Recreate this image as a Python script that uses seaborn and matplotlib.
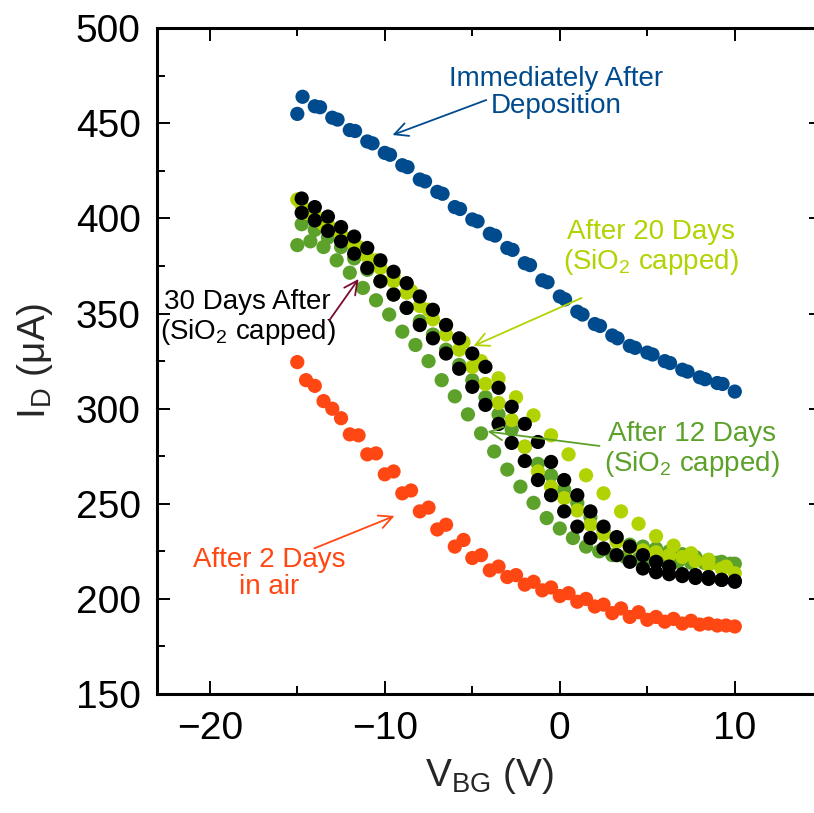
import matplotlib
matplotlib.use("Agg")
import matplotlib.pyplot as plt
import pandas as pd
import seaborn as sns
from matplotlib.ticker import MultipleLocator

# ---------------- data ----------------
blue_v = [-15, -14.7, -14, -13.7, -13, -12.7, -12, -11.7, -11, -10.7, -10, -9.7, -9, -8.7,
          -8, -7.7, -7, -6.7, -6, -5.7, -5, -4.7, -4, -3.7, -3, -2.7, -2, -1.7, -1, -0.7,
          0, 0.3, 1, 1.3, 2, 2.3, 3, 3.3, 4, 4.3, 5, 5.3, 6, 6.3, 7, 7.3, 8, 8.3, 9, 9.3, 10]
blue_i = [455, 464, 459, 458.5, 453, 452, 446.5, 446, 440.5, 439.5, 434.5, 433.5, 428, 427,
          420.5, 419.5, 414, 413, 406, 405, 399.5, 398.5, 392, 391, 384.5, 383.5, 376.5, 375.5,
          367.5, 366.5, 359, 357.5, 351, 349.5, 344.5, 343.5, 338.5, 337, 333, 332, 329.5, 328.5,
          325, 324, 320.5, 319.5, 316.5, 315.5, 313.5, 313, 309]

red_v = [-15, -14.5, -14, -13.5, -13, -12.5, -12, -11.5, -11, -10.5, -10, -9.5, -9, -8.5, -8,
         -7.5, -7, -6.5, -6, -5.5, -5, -4.5, -4, -3.5, -3, -2.5, -2, -1.5, -1, -0.5, 0, 0.5,
         1, 1.5, 2, 2.5, 3, 3.5, 4, 4.5, 5, 5.5, 6, 6.5, 7, 7.5, 8, 8.5, 9, 9.5, 10]
red_i = [324.5, 315, 312, 304, 300, 295, 286.5, 286, 276, 276.5, 265.5, 267, 255.5, 257, 246,
         248, 236.5, 239, 227.5, 231, 221.5, 223, 215, 217, 211.5, 212.5, 207.5, 209, 204.5,
         206, 201.5, 203, 198.5, 200, 196, 197, 192.5, 195, 190.5, 193, 189, 190.5, 188, 189.5,
         187, 188.5, 186.5, 187, 186, 186, 185.5]

green_lo_v = [-15, -14.25, -13.5, -12.75, -12, -11.25, -10.5, -9.75, -9, -8.25, -7.5, -6.75,
              -6, -5.25, -4.5, -3.75, -3, -2.25, -1.5, -0.75, 0, 0.75, 1.5, 2.25, 3, 3.75,
              4.5, 5.25, 6, 6.75, 7.5, 8.25, 9, 9.75]
green_lo_i = [386, 388, 385, 378, 371.5, 363.5, 357, 349.5, 340.5, 333.5, 325, 315, 306.5, 297,
              287, 277.5, 268, 259, 250.5, 242.5, 237, 232, 227.5, 225, 223, 222, 221, 220.5,
              220, 219.5, 219, 219, 219, 218.5]
green_hi_v = [-14.75, -14, -13.25, -12.5, -11.75, -11, -10.25, -9.5, -8.75, -8, -7.25, -6.5,
              -5.75, -5, -4.25, -3.5, -2.75, -2, -1.25, -0.5, 0.25, 1, 1.75, 2.5, 3.25, 4,
              4.75, 5.5, 6.25, 7, 7.75, 8.5, 9.25, 10]
green_hi_i = [397, 394, 390, 385, 379, 373, 367, 360, 353, 346, 339, 331, 323, 315, 306, 297,
              289, 280, 271, 265, 257.5, 250.5, 243, 236, 231, 228.5, 227.5, 226.5, 225, 223.5,
              222, 220.5, 219.5, 218.5]

yellow_hi_v = [-15, -14.5, -13.5, -12.5, -11.5, -10.5, -9.5, -8.5, -7.5, -6.5, -5.5, -4.5,
               -3.5, -2.5, -1.5, -0.5, 0.5, 1.5, 2.5, 3.5, 4.5, 5.5, 6.5, 7.5, 8.5, 9.5]
yellow_hi_i = [410, 403, 397, 392, 385, 378, 370, 362, 352, 344, 335, 325, 316, 306, 296.5,
               286, 276, 265, 255.5, 246, 239.5, 233, 228, 224, 220.5, 217]
yellow_lo_v = [-14.75, -14, -13.25, -12.5, -11.75, -11, -10.25, -9.5, -8.75, -8, -7.25, -6.5,
               -5.75, -5, -4.25, -3.5, -2.75, -2, -1.25, -0.5, 0.25, 1, 1.75, 2.5, 3.25, 4,
               4.75, 5.5, 6.25, 7, 7.75, 8.5, 9.25, 10]
yellow_lo_i = [407, 402, 397, 391, 386, 380, 374, 367, 361, 354, 347, 339, 331, 322, 313, 303,
               294, 280, 267, 259, 253, 246.5, 239, 234, 230, 227, 225.5, 224.5, 223, 222, 220,
               218, 216, 213.5]

black_v = [-14.75, -14, -13.25, -12.5, -11.75, -11, -10.25, -9.5, -8.75, -8, -7.25, -6.5,
           -5.75, -5, -4.25, -3.5, -2.75, -2, -1.25, -0.5, 0.25, 1, 1.75, 2.5, 3.25, 4,
           4.75, 5.5, 6.25, 7, 7.75, 8.5, 9.25, 10]
black_hi_i = [410.5, 406, 401, 395.5, 390.5, 384.5, 378, 372, 366, 359, 352, 344, 337, 329, 322,
              311, 301, 292, 282.5, 272, 262.5, 254.5, 246, 238, 232.5, 227.5, 223, 219.5, 217,
              213, 212.5, 211.5, 210, 209]
black_lo_i = [403, 399, 393.5, 388, 381.5, 374, 367, 360, 353, 344, 337, 329, 321, 311.5, 302,
              292, 282, 272.5, 262.5, 254.5, 246, 238, 232, 226.5, 223, 219.5, 216, 214, 213,
              212, 211, 210.5, 210, 209.5]

series_names = ["Immediately", "2 days", "12 days", "20 days", "30 days"]
series_colors = ["#004B8D", "#FF4713", "#5BA12A", "#B2D302", "#000000"]

# ---------------- style ----------------
sns.set_style("ticks")
plt.rcParams["font.family"] = ["Liberation Sans", "DejaVu Sans"]
plt.rcParams["mathtext.fontset"] = "custom"
plt.rcParams["mathtext.rm"] = "Liberation Sans"
plt.rcParams["mathtext.it"] = "Liberation Sans:italic"
plt.rcParams["mathtext.bf"] = "Liberation Sans:bold"

fig = plt.figure(figsize=(8.14, 8.13), dpi=100)
ax = fig.add_axes([157.3 / 814, (813 - 694) / 813, 665.0 / 814, 665.7 / 813])

frames = [
    pd.DataFrame({"V": blue_v, "I": blue_i, "series": series_names[0]}),
    pd.DataFrame({"V": red_v, "I": red_i, "series": series_names[1]}),
    pd.DataFrame({"V": green_lo_v, "I": green_lo_i, "series": series_names[2]}),
    pd.DataFrame({"V": green_hi_v, "I": green_hi_i, "series": series_names[2]}),
    pd.DataFrame({"V": yellow_lo_v, "I": yellow_lo_i, "series": series_names[3]}),
    pd.DataFrame({"V": yellow_hi_v, "I": yellow_hi_i, "series": series_names[3]}),
    pd.DataFrame({"V": black_v, "I": black_lo_i, "series": series_names[4]}),
    pd.DataFrame({"V": black_v, "I": black_hi_i, "series": series_names[4]}),
]
df = pd.concat(frames, ignore_index=True)

sns.scatterplot(data=df, x="V", y="I", hue="series", hue_order=series_names,
                palette=series_colors, s=105, linewidth=0, legend=False, ax=ax)

ax.set_xlim(-23, 15)
ax.set_ylim(150, 500)
ax.xaxis.set_major_locator(MultipleLocator(10))
ax.xaxis.set_minor_locator(MultipleLocator(5))
ax.yaxis.set_major_locator(MultipleLocator(50))
ax.yaxis.set_minor_locator(MultipleLocator(25))
ax.tick_params(which="both", direction="in", top=True, right=True, width=1.4,
               labelsize=28, colors="black")
ax.tick_params(which="major", length=9.5, pad=12)
ax.tick_params(which="minor", length=5.5)
for sp in ax.spines.values():
    sp.set_linewidth(2.2)
    sp.set_color("black")

ax.set_xlabel(r"V$_{\rm BG}$ (V)", fontsize=28, labelpad=7)
ax.set_ylabel(r"I$_{\rm D}$ (μA)", fontsize=28, labelpad=15)

# ---------------- annotations ----------------
fs = 20
ax.text(-0.2, 466.5, "Immediately After\nDeposition", color=series_colors[0], fontsize=fs,
        ha="center", va="center", linespacing=1.05)
ax.text(5.2, 384.5, "After 20 Days\n(SiO$_2$ capped)", color=series_colors[3], fontsize=fs,
        ha="center", va="center", linespacing=1.05)
ax.text(7.55, 278.3, "After 12 Days\n(SiO$_2$ capped)", color=series_colors[2], fontsize=fs,
        ha="center", va="center", linespacing=1.05)
ax.text(-17.85, 347.7, "30 Days After\n(SiO$_2$ capped)", color="black", fontsize=fs,
        ha="center", va="center", linespacing=1.05)
ax.text(-16.6, 213.6, "After 2 Days\nin air", color=series_colors[1], fontsize=fs,
        ha="center", va="center", linespacing=1.05)

arrows = [
    ((-4.2, 462.3), (-9.56, 443.9), series_colors[0]),
    ((1.24, 358.2), (-4.93, 333.0), series_colors[3]),
    ((2.27, 280.4), (-4.13, 288.0), series_colors[2]),
    ((-13.16, 346.6), (-11.5, 368.2), "#7A0A32"),
    ((-14.02, 226.6), (-9.45, 243.6), series_colors[1]),
]
for tail, tip, col in arrows:
    ax.annotate("", xy=tip, xytext=tail,
                arrowprops=dict(arrowstyle="->", color=col, lw=1.3, mutation_scale=24,
                                shrinkA=0, shrinkB=0))

fig.savefig("out.png", dpi=100)
